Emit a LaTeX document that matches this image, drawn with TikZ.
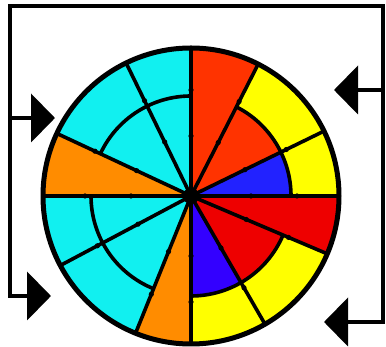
\documentclass[tikz,border=0pt]{standalone}
\usepackage{xcolor}
\usetikzlibrary{arrows.meta}
\definecolor{redA}{HTML}{FF3300}
\definecolor{redB}{HTML}{EE0000}
\definecolor{blueA}{HTML}{2222FF}
\definecolor{blueB}{HTML}{3300FF}
\definecolor{yel}{HTML}{FFFF00}
\definecolor{cyn}{HTML}{11F0F0}
\definecolor{orng}{HTML}{FF8C00}
\begin{document}
\begin{tikzpicture}[x=1pt,y=1pt,
  rim/.style={line width=5pt},
  spoke/.style={line width=3.6pt},
  link/.style={line width=4.5pt,line join=miter,-{Triangle[length=24pt,width=48pt]}}]
  \useasboundingbox (0,0) rectangle (386,347);
  \coordinate (nw) at (10,341);
  \coordinate (ne) at (383,341);
  \coordinate (wj) at (10,229);
  \coordinate (ej) at (383,257);
  \coordinate (tl) at (55,229);
  \coordinate (tr) at (334,257);
  \coordinate (bl) at (51,51);
  \coordinate (br) at (324,25);
  \begin{scope}[shift={(191,151)}]
    \foreach \s/\a/\b/\e/\f/\i/\j/\o/\l in {90/63/26/0/redA/redA/blueA/yel/none,0/-23/-60/-90/redB/redB/blueB/yel/none,270/248/208/180/orng/cyn/cyn/cyn/blueA,180/155/116/90/orng/cyn/cyn/cyn/blueA}{
      \fill[\f] (0,0) -- (\s:148) arc[start angle=\s,end angle=\a,radius=148] -- cycle;
      \fill[\i] (0,0) -- (\a:100) arc[start angle=\a,end angle=\b,radius=100] -- cycle;
      \path[fill=\j,draw=\l,line width=1.2pt] (0,0) -- (\b:100) arc[start angle=\b,end angle=\e,radius=100] -- cycle;
      \fill[\o] (\a:100) -- (\a:148) arc[start angle=\a,end angle=\e,radius=148] -- (\e:100) arc[start angle=\e,end angle=\a,radius=100] -- cycle;
    }
    \foreach \s/\a/\b/\e in {90/63/26/0,0/-23/-60/-90,270/248/208/180,180/155/116/90}{
      \draw[spoke] (0,0) -- (\s:148) (0,0) -- (\a:148) (0,0) -- (\b:148);
      \draw[spoke] (\a:100) arc[start angle=\a,end angle=\e,radius=100];
      \foreach \t in {\s,\a,\b}
        \fill (\t:60) circle[radius=2.6] (\t:106) circle[radius=2.6];
    }
    \fill (0,0) circle[radius=8];
    \draw[rim] (0,0) circle[radius=148];
  \end{scope}
  \draw[link] (wj) |- (ne) -- (ej) -- (tr);
  \draw[link] (wj) -- (tl);
  \draw[link] (ej) |- (br);
  \draw[link] (wj) |- (bl);
\end{tikzpicture}
\end{document}
